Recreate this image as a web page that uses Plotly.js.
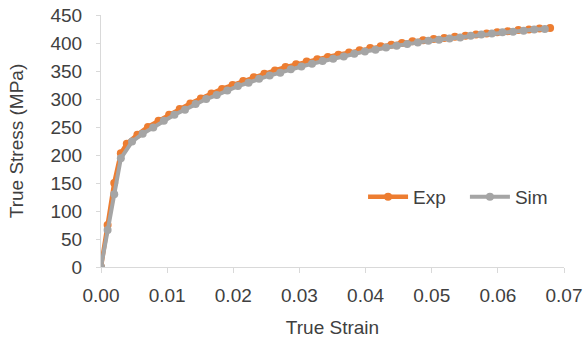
<!DOCTYPE html>
<html>
<head>
<meta charset="utf-8">
<script src="https://cdn.plot.ly/plotly-3.0.1.min.js"></script>
<style>html,body{margin:0;padding:0;background:#fff;}#chart{width:585px;height:341px;}</style>
</head>
<body>
<div id="chart"></div>
<script>
const expStrain = [0, 0.001, 0.002, 0.003, 0.0039, 0.0055, 0.0071, 0.0087, 0.0103, 0.0119, 0.0135, 0.0151, 0.0167, 0.0183, 0.0199, 0.0215, 0.0231, 0.0247, 0.0263, 0.0279, 0.0295, 0.0311, 0.0327, 0.0343, 0.0359, 0.0375, 0.0391, 0.0407, 0.0423, 0.0439, 0.0455, 0.0471, 0.0487, 0.0503, 0.0519, 0.0535, 0.0551, 0.0567, 0.0583, 0.0599, 0.0615, 0.0631, 0.0647, 0.0663, 0.0679];
const expStress = [0, 75, 150, 203, 220, 236, 250, 261, 272, 282, 292, 301, 310, 318, 325, 332, 339, 345, 351, 357, 362, 367, 371, 375, 379, 383, 387, 391, 394, 397, 400, 403, 405, 407, 409, 411, 413, 415, 417, 419, 421, 423, 424, 426, 427];
const simStrain = [0, 0.001, 0.002, 0.003, 0.0047, 0.0063, 0.0079, 0.0095, 0.0111, 0.0127, 0.0143, 0.0159, 0.0175, 0.0191, 0.0207, 0.0223, 0.0239, 0.0255, 0.0271, 0.0287, 0.0303, 0.0319, 0.0335, 0.0351, 0.0367, 0.0383, 0.0399, 0.0415, 0.0431, 0.0447, 0.0463, 0.0479, 0.0495, 0.0511, 0.0527, 0.0543, 0.0559, 0.0575, 0.0591, 0.0607, 0.0623, 0.0639, 0.0655, 0.0671];
const simStress = [0, 66, 130, 194, 224, 238, 249, 261, 272, 281, 291, 300, 307, 315, 323, 329, 336, 342, 347, 353, 358, 363, 368, 372, 376, 381, 385, 388, 392, 395, 398, 401, 404, 406, 408, 410, 413, 415, 417, 419, 420, 422, 424, 425];
const xTicks = [0, 0.01, 0.02, 0.03, 0.04, 0.05, 0.06, 0.07];
const xTickLabels = ["0.00", "0.01", "0.02", "0.03", "0.04", "0.05", "0.06", "0.07"];
const yTicks = [0, 50, 100, 150, 200, 250, 300, 350, 400, 450];

const txt = '#404040';
const font = {family: 'Liberation Sans, Arial, sans-serif', size: 19, color: txt};

const traces = [
  {x: expStrain, y: expStress, name: 'Exp', type: 'scatter', mode: 'lines+markers', legend: 'legend',
   line: {color: '#ED7D31', width: 4.5}, marker: {color: '#ED7D31', size: 8}},
  {x: simStrain, y: simStress, name: 'Sim', type: 'scatter', mode: 'lines+markers', legend: 'legend2',
   line: {color: '#A5A5A5', width: 4}, marker: {color: '#A5A5A5', size: 8}}
];

const legBase = {orientation: 'h', y: 0.278, xanchor: 'left', yanchor: 'middle',
                 font: font, bgcolor: 'rgba(0,0,0,0)', itemwidth: 40};

const layout = {
  width: 585, height: 341,
  margin: {l: 101, r: 21, t: 15, b: 74, pad: 0},
  paper_bgcolor: '#fff', plot_bgcolor: '#fff',
  font: font,
  showlegend: true,
  legend: Object.assign({}, legBase, {x: 0.566}),
  legend2: Object.assign({}, legBase, {x: 0.786}),
  xaxis: {range: [0, 0.07], tickvals: xTicks, ticktext: xTickLabels,
          showgrid: false, zeroline: false, showline: true, linecolor: '#D9D9D9', linewidth: 1,
          ticks: 'outside', ticklen: 5, tickcolor: '#D9D9D9', tickfont: font, ticklabelstandoff: 6,
          title: {text: 'True Strain', font: font, standoff: 15}},
  yaxis: {range: [0, 450], tickvals: yTicks,
          showgrid: false, zeroline: false, showline: true, linecolor: '#D9D9D9', linewidth: 1,
          ticks: 'outside', ticklen: 4, tickcolor: '#D9D9D9', tickfont: font, ticklabelstandoff: 10,
          title: {text: 'True Stress (MPa)', font: font, standoff: 21}}
};

Plotly.newPlot('chart', traces, layout, {displayModeBar: false, staticPlot: true});
</script>
</body>
</html>
